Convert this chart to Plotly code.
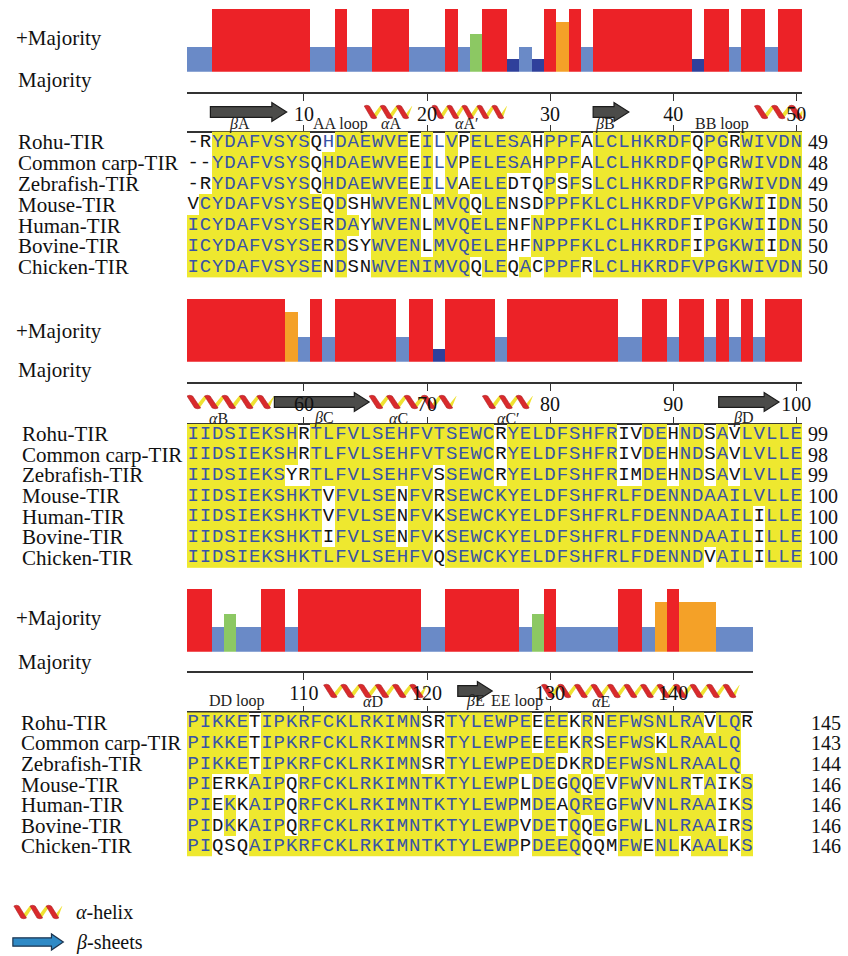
import plotly.graph_objects as go

W, H = 848, 956

species = ["Rohu-TIR", "Common carp-TIR", "Zebrafish-TIR", "Mouse-TIR",
           "Human-TIR", "Bovine-TIR", "Chicken-TIR"]

majority_1 = "ICYDAFVSYSEHDAEWVENIMVQELESANPPFKLCLHKRDFVPGKWIVDN"
majority_2 = "IIDSIEKSHKTLFVLSEHFVTSEWCKYELDFSHFRLFDENNDAAILVLLE"
majority_3 = "PIKKEAIPKRFCKLRKIMNTKTYLEWPEDEEQREEFWSNLRAALQS"

seqs_1 = ["-RYDAFVSYSQHDAEWVEEILVPELESAHPPFALCLHKRDFQPGRWIVDN",
          "--YDAFVSYSQHDAEWVEEILVPELESAHPPFALCLHKRDFQPGRWIVDN",
          "-RYDAFVSYSQHDAEWVEEILVAELEDTQPSFSLCLHKRDFRPGRWIVDN",
          "VCYDAFVSYSEQDSHWVENLMVQQLENSDPPFKLCLHKRDFVPGKWIIDN",
          "ICYDAFVSYSERDAYWVENLMVQELENFNPPFKLCLHKRDFIPGKWIIDN",
          "ICYDAFVSYSERDSYWVENLMVQELEHFNPPFKLCLHKRDFIPGKWIIDN",
          "ICYDAFVSYSENDSNWVENIMVQQLEQACPPFRLCLHKRDFVPGKWIVDN"]
seqs_2 = ["IIDSIEKSHRTLFVLSEHFVTSEWCRYELDFSHFRIVDEHNDSAVLVLLE",
          "IIDSIEKSHRTLFVLSEHFVTSEWCRYELDFSHFRIVDEHNDSAVLVLLE",
          "IIDSIEKSYRTLFVLSEHFVSSEWCRYELDFSHFRIMDEHNDSAVLVLLE",
          "IIDSIEKSHKTVFVLSENFVRSEWCKYELDFSHFRLFDENNDAAILVLLE",
          "IIDSIEKSHKTVFVLSENFVKSEWCKYELDFSHFRLFDENNDAAILILLE",
          "IIDSIEKSHKTIFVLSENFVKSEWCKYELDFSHFRLFDENNDAAILILLE",
          "IIDSIEKSHKTLFVLSEHFVQSEWCKYELDFSHFRLFDENNDVAILILLE"]
seqs_3 = ["PIKKETIPKRFCKLRKIMNSRTYLEWPEEEEKRNEFWSNLRAVLQR",
          "PIKKETIPKRFCKLRKIMNSRTYLEWPEEEEKRSEFWSKLRAALQ",
          "PIKKETIPKRFCKLRKIMNSRTYLEWPEDEDKRDEFWSNLRAALQ",
          "PIERKAIPQRFCKLRKIMNTKTYLEWPLDEGQQEVFWVNLRTAIKS",
          "PIEKKAIPQRFCKLRKIMNTKTYLEWPMDEAQREGFWVNLRAAIKS",
          "PIDKKAIPQRFCKLRKIMNTKTYLEWPVDETQQEGFWLNLRAAIRS",
          "PIQSQAIPKRFCKLRKIMNTKTYLEWPPDEEQQQMFWENLKAALKS"]

ends_1 = [49, 48, 49, 50, 50, 50, 50]
ends_2 = [99, 98, 99, 100, 100, 100, 100]
ends_3 = [145, 143, 144, 146, 146, 146, 146]

# conservation bar heights (fraction of full height)
cons_1 = [0.4, 0.4, 1, 1, 1, 1, 1, 1, 1, 1, 0.4, 0.4, 1, 0.4, 0.4, 1, 1, 1, 0.4, 0.4,
          0.4, 1, 0.4, 0.6, 1, 1, 0.21, 0.4, 0.21, 1, 0.8, 1, 0.4, 1, 1, 1, 1, 1, 1, 1,
          1, 0.21, 1, 1, 0.4, 1, 1, 0.4, 1, 1]
cons_2 = [1, 1, 1, 1, 1, 1, 1, 1, 0.8, 0.4, 1, 0.4, 1, 1, 1, 1, 1, 0.4, 1, 1,
          0.21, 1, 1, 1, 1, 0.4, 1, 1, 1, 1, 1, 1, 1, 1, 1, 0.4, 0.4, 1, 1, 0.4,
          1, 1, 0.4, 1, 0.4, 1, 0.4, 1, 1, 1]
cons_3 = [1, 1, 0.4, 0.6, 0.4, 0.4, 1, 1, 0.4, 1, 1, 1, 1, 1, 1, 1, 1, 1, 1, 0.4,
          0.4, 1, 1, 1, 1, 1, 1, 0.4, 0.6, 1, 0.4, 0.4, 0.4, 0.4, 0.4, 1, 1, 0.4, 0.8, 1,
          0.8, 0.8, 0.8, 0.4, 0.4, 0.4]

# cells shown with blue letters but no highlight (row index, residue position)
similar_cells = [(0, 12), (0, 21), (1, 21), (2, 21)]

ruler_ticks_1 = [10, 20, 30, 40, 50]
ruler_ticks_2 = [60, 70, 80, 90, 100]
ruler_ticks_3 = [110, 120, 130, 140]

# secondary structure elements (residue positions)
helices = [(14.9, 18.8), (20.4, 26.5), (46.6, 50.8), (50.5, 57.6), (65.3, 72.4),
           (74.5, 78.6), (111.6, 120.0), (129.3, 145.4)]
strands = [(2.4, 8.6), (33.5, 36.4), (57.6, 65.3), (93.7, 98.6), (122.5, 125.3)]
ss_labels = [("<i>β</i>A", 4.8), ("AA loop", 13.0), ("<i>α</i>A", 17.1), ("<i>α</i>A′", 23.2),
             ("<i>β</i>B", 34.5), ("BB loop", 44.0),
             ("<i>α</i>B", 53.1), ("<i>β</i>C", 61.6), ("<i>α</i>C", 67.7), ("<i>α</i>C′", 76.6),
             ("<i>β</i>D", 95.7),
             ("DD loop", 104.6), ("<i>α</i>D", 115.6), ("<i>β</i>E", 123.9), ("EE loop", 127.3),
             ("<i>α</i>E", 134.1)]

# ---------------- styling ----------------
MONO = "Liberation Mono"
SERIF = "Liberation Serif"
BLUE_TXT = "#3853A8"
YELLOW = "#EEE82F"
RED, ORANGE, GREEN, LBLUE, DBLUE = "#EC2227", "#F4A128", "#8CC863", "#6A8AC7", "#2F409B"
HRED, HYEL = "#D92A2C", "#EFE232"
X0, CW = 189.0, 12.44


def P(px):
    return 1.0 - px / H


def cons_color(v):
    if v >= 0.95:
        return RED
    if v >= 0.75:
        return ORANGE
    if v >= 0.55:
        return GREEN
    if v >= 0.3:
        return LBLUE
    return DBLUE


blocks = [
    dict(off=0, n=50, bar_top=9.0, bar_bot=71.7, maj=83.5, rtop=92.7, gtop=131.5, gbot=277.8,
         ss=112.0, sslab=124.0, labx=16, plus=38, majlab=80, endx=815,
         maj_seq=majority_1, seqs=seqs_1, ends=ends_1, cons=cons_1, ticks=ruler_ticks_1),
    dict(off=50, n=50, bar_top=299.0, bar_bot=361.7, maj=372.0, rtop=383.3, gtop=423.8, gbot=568.0,
         ss=402.0, sslab=418.0, labx=20, plus=331, majlab=370, endx=815,
         maj_seq=majority_2, seqs=seqs_2, ends=ends_2, cons=cons_2, ticks=ruler_ticks_2),
    dict(off=100, n=46, bar_top=589.0, bar_bot=651.7, maj=662.5, rtop=672.3, gtop=712.3, gbot=856.7,
         ss=691.0, sslab=701.0, labx=19, plus=618, majlab=662, endx=818,
         maj_seq=majority_3, seqs=seqs_3, ends=ends_3, cons=cons_3, ticks=ruler_ticks_3),
]


def aname(prefix, i):
    return prefix if i == 1 else f"{prefix}{i}"


def lname(prefix, i):
    return f"{prefix}axis" if i == 1 else f"{prefix}axis{i}"


fig = go.Figure()
layout_axes = {}
annotations = []
shapes = []

for b, blk in enumerate(blocks):
    off, n = blk["off"], blk["n"]
    xi, xti, xbi = b + 1, b + 4, b + 7
    ybi, ygi = b + 1, b + 4
    xa, xta, xba = aname("x", xi), aname("x", xti), aname("x", xbi)
    yba, yga = aname("y", ybi), aname("y", ygi)
    dom = [X0 / W, (X0 + n * CW) / W]
    rng = [off + 0.5, off + n + 0.5]
    cols = list(range(off + 1, off + n + 1))
    rowh = (blk["gbot"] - blk["gtop"]) / 7.0
    barh = blk["bar_bot"] - blk["bar_top"]

    layout_axes[lname("x", xi)] = dict(domain=dom, range=rng, visible=False, anchor=yba)
    layout_axes[lname("y", ybi)] = dict(domain=[P(blk["bar_bot"]), P(blk["bar_top"])], range=[0, 1],
                                        visible=False, anchor=xa)
    layout_axes[lname("y", ygi)] = dict(domain=[P(blk["gbot"]), P(blk["gtop"])], range=[6.5, -0.5],
                                        visible=False, anchor=xa)
    layout_axes[lname("x", xti)] = dict(
        range=rng, overlaying=xa, anchor="free", position=P(blk["rtop"]), side="bottom",
        showline=True, linecolor="#333333", linewidth=1.6, ticks="outside", ticklen=7,
        tickwidth=1.4, tickcolor="#333333", tickmode="array", tickvals=blk["ticks"],
        ticktext=[str(t) for t in blk["ticks"]], tickangle=0, ticklabelstandoff=-4,
        tickfont=dict(family=SERIF, size=20, color="#111111"), showgrid=False, zeroline=False)
    layout_axes[lname("x", xbi)] = dict(
        range=rng, overlaying=xa, anchor="free", position=P(blk["gtop"]), side="top",
        showline=True, linecolor="#333333", linewidth=1.6, ticks="outside", ticklen=6,
        tickwidth=1.4, tickcolor="#333333", tickmode="array", tickvals=blk["ticks"],
        showticklabels=False, showgrid=False, zeroline=False)

    # conservation bars
    fig.add_trace(go.Bar(x=cols, y=blk["cons"], width=1.0, xaxis=xa, yaxis=yba,
                         marker=dict(color=[cons_color(v) for v in blk["cons"]], line=dict(width=0)),
                         showlegend=False, hoverinfo="skip"))
    # majority letters
    ymaj = -(blk["maj"] - blk["bar_bot"]) / barh
    fig.add_trace(go.Scatter(x=cols, y=[ymaj] * n, mode="text", text=list(blk["maj_seq"]),
                             textfont=dict(family=MONO, size=19, color="#111111"),
                             xaxis=xa, yaxis=yba, cliponaxis=False, showlegend=False, hoverinfo="skip"))
    # dummy traces so ruler axes are drawn
    for ax in (xta, xba):
        fig.add_trace(go.Scatter(x=[None], y=[None], xaxis=ax, yaxis=yba, mode="markers",
                                 showlegend=False, hoverinfo="skip"))

    # alignment grid
    z, tx, ty, tt, tc = [], [], [], [], []
    for r, s in enumerate(blk["seqs"]):
        row = []
        for j in range(n):
            ch = s[j] if j < len(s) else " "
            pos = off + j + 1
            ident = ch == blk["maj_seq"][j]
            sim = (r, pos) in similar_cells
            if sim:
                ident = False
            row.append(1 if ident else 0)
            if ch != " ":
                tx.append(pos)
                ty.append(r)
                tt.append(ch)
                tc.append(BLUE_TXT if (ident or sim) else "#111111")
        z.append(row)
    fig.add_trace(go.Heatmap(x=cols, y=list(range(7)), z=z, zmin=0, zmax=1,
                             colorscale=[[0, "rgba(255,255,255,0)"], [1, YELLOW]], showscale=False,
                             xaxis=xa, yaxis=yga, hoverinfo="skip"))
    fig.add_trace(go.Scatter(x=tx, y=ty, mode="text", text=tt,
                             textfont=dict(family=MONO, size=19, color=tc),
                             xaxis=xa, yaxis=yga, cliponaxis=False, showlegend=False, hoverinfo="skip"))

    # left labels
    annotations.append(dict(x=14 / W, y=P(blk["plus"]), xref="paper", yref="paper", text="+Majority",
                            showarrow=False, xanchor="left", yanchor="middle",
                            font=dict(family=SERIF, size=21, color="#111111")))
    annotations.append(dict(x=16 / W, y=P(blk["majlab"]), xref="paper", yref="paper", text="Majority",
                            showarrow=False, xanchor="left", yanchor="middle",
                            font=dict(family=SERIF, size=21, color="#111111")))
    for r, name in enumerate(species):
        yc = blk["gtop"] + (r + 0.5) * rowh
        annotations.append(dict(x=blk["labx"] / W, y=P(yc), xref="paper", yref="paper", text=name,
                                showarrow=False, xanchor="left", yanchor="middle",
                                font=dict(family=SERIF, size=21, color="#111111")))
        annotations.append(dict(x=blk["endx"] / W, y=P(yc), xref="paper", yref="paper",
                                text=str(blk["ends"][r]), showarrow=False, xanchor="left",
                                yanchor="middle", font=dict(family=SERIF, size=20, color="#111111")))


def block_of(a, b2):
    mid = (a + b2) / 2.0
    return 0 if mid <= 50.5 else (1 if mid <= 100.5 else 2)


def helix_shapes(x0, x1, yc, xref, upx):
    """Twisted-ribbon look: red front bands slanting down-right, yellow back bands up-right."""
    period_px = 16.5
    npd = max(1, int(round((x1 - x0) * upx / period_px)))
    p = (x1 - x0) / npd
    yt, yb = P(yc - 6.0), P(yc + 6.0)
    reds, yels = [], []
    for k in range(npd):
        x = x0 + k * p
        # yellow back band (drawn first)
        if k < npd - 1 or True:
            ya = [(x + 0.42 * p, yb), (x + 0.72 * p, yb), (min(x + 1.22 * p, x1), yt), (min(x + 0.98 * p, x1), yt)]
            path = "M" + " L".join(f"{a},{c}" for a, c in ya) + " Z"
            yels.append(dict(type="path", path=path, xref=xref, yref="paper", fillcolor=HYEL,
                             line=dict(width=0), layer="below"))
        rd = [(x, yt), (x + 0.32 * p, yt), (x + 0.78 * p, yb), (x + 0.44 * p, yb)]
        path = ("M{},{} Q{},{} {},{} L{},{} Q{},{} {},{} Z").format(
            rd[0][0], rd[0][1], rd[0][0] + 0.16 * p, P(yc - 7.5), rd[1][0], rd[1][1],
            rd[2][0], rd[2][1], rd[2][0] - 0.16 * p, P(yc + 7.5), rd[3][0], rd[3][1])
        reds.append(dict(type="path", path=path, xref=xref, yref="paper", fillcolor=HRED,
                         line=dict(color="#B01E22", width=0.6), layer="below"))
    return yels + reds


def arrow_shape(x0, x1, yc, xref, upx, fill, edge, bh=5.3, hh=9.5, hl=15.0):
    hx = x1 - hl / upx
    pts = [(x0, yc - bh), (hx, yc - bh), (hx, yc - hh), (x1, yc), (hx, yc + hh), (hx, yc + bh), (x0, yc + bh)]
    path = "M" + " L".join(f"{x},{P(y)}" for x, y in pts) + " Z"
    return dict(type="path", path=path, xref=xref, yref="paper", fillcolor=fill,
                line=dict(color=edge, width=1.2), layer="below")


for a, b2 in helices:
    bi = block_of(a, b2)
    shapes += helix_shapes(a, b2, blocks[bi]["ss"], aname("x", bi + 1), CW)
for a, b2 in strands:
    bi = block_of(a, b2)
    shapes.append(arrow_shape(a, b2, blocks[bi]["ss"], aname("x", bi + 1), CW, "#4B4B49", "#1C1C1C"))
for lab, pos in ss_labels:
    bi = block_of(pos, pos)
    annotations.append(dict(x=pos, y=P(blocks[bi]["sslab"]), xref=aname("x", bi + 1), yref="paper",
                            text=lab, showarrow=False, xanchor="center", yanchor="middle",
                            font=dict(family=SERIF, size=16, color="#222222")))

# legend
shapes += helix_shapes(14 / W, 63 / W, 912, "paper", W)
shapes.append(arrow_shape(13 / W, 64 / W, 942, "paper", W, "#2F8AC6", "#1D3550", bh=4.2, hh=8.0, hl=12.0))
annotations.append(dict(x=75 / W, y=P(912), xref="paper", yref="paper", text="<i>α</i>-helix",
                        showarrow=False, xanchor="left", yanchor="middle",
                        font=dict(family=SERIF, size=20, color="#111111")))
annotations.append(dict(x=75 / W, y=P(942), xref="paper", yref="paper", text="<i>β</i>-sheets",
                        showarrow=False, xanchor="left", yanchor="middle",
                        font=dict(family=SERIF, size=20, color="#111111")))

fig.update_layout(width=W, height=H, margin=dict(l=0, r=0, t=0, b=0),
                  paper_bgcolor="white", plot_bgcolor="rgba(0,0,0,0)",
                  showlegend=False, bargap=0, annotations=annotations, shapes=shapes,
                  **layout_axes)

fig.write_html("out.html", config={"displayModeBar": False},
               post_script="document.body.style.margin='0';")
